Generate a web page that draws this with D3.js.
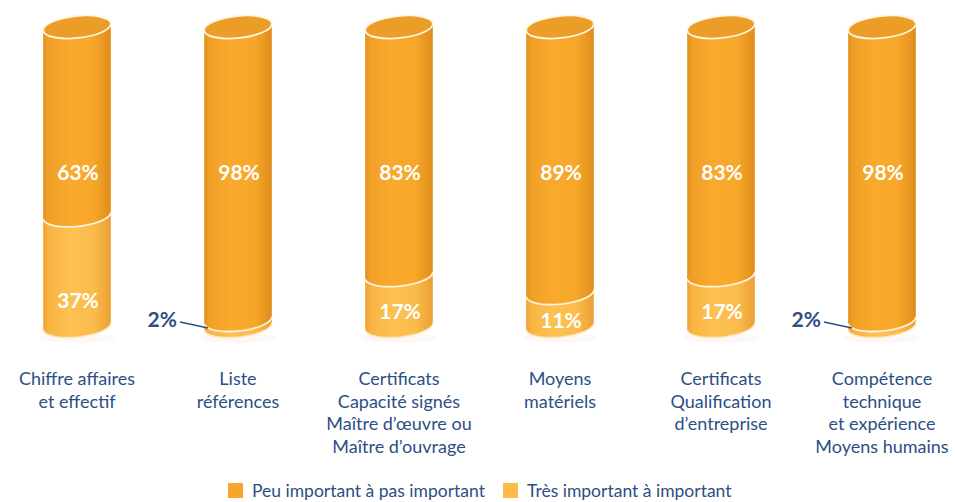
<!DOCTYPE html>
<html>
<head>
<meta charset="utf-8">
<script src="https://cdn.jsdelivr.net/npm/d3@7"></script>
<style>
  body { margin: 0; background: #fff; }
  svg { display: block; font-family: Lato, "Open Sans", sans-serif; }
</style>
</head>
<body>
<div id="viz"></div>
<script>
// data
const categories = [
  ['Chiffre affaires', 'et effectif'],
  ['Liste', 'références'],
  ['Certificats', 'Capacité signés', 'Maître d’œuvre ou', 'Maître d’ouvrage'],
  ['Moyens', 'matériels'],
  ['Certificats', 'Qualification', 'd’entreprise'],
  ['Compétence', 'technique', 'et expérience', 'Moyens humains']
];
const peuImportant = [63, 98, 83, 89, 83, 98];
const tresImportant = [37, 2, 17, 11, 17, 2];
const seriesNames = ['Peu important à pas important', 'Très important à important'];

const width = 955, height = 502;
const rx = 34, ry = 11, tilt = -6 * Math.PI / 180;
const blue = '#2c4f84';

const svg = d3.select('#viz')
  .append('svg')
  .attr('width', width)
  .attr('height', height);

const x = d3.scalePoint()
  .domain(d3.range(categories.length))
  .range([77, 882]);

const y = d3.scaleLinear()
  .domain([0, 100])
  .range([326, 27]);

// gradients
const defs = svg.append('defs');
const grad = (id, stops) => {
  const g = defs.append('linearGradient').attr('id', id)
    .attr('x1', 0).attr('x2', 1).attr('y1', 0).attr('y2', 0);
  stops.forEach(s => g.append('stop').attr('offset', s[0]).attr('stop-color', s[1]));
};
grad('gDark', [[0, '#e2901d'], [0.08, '#f0a027'], [0.4, '#f9aa2d'], [0.75, '#f6a629'], [1, '#df8d1b']]);
grad('gLight', [[0, '#eea134'], [0.08, '#f8b443'], [0.4, '#fdc152'], [0.75, '#fabb4a'], [1, '#eba033']]);

// point on a tilted ellipse
const pt = (cx, cy, t) => [
  cx + rx * Math.cos(t) * Math.cos(tilt) - ry * Math.sin(t) * Math.sin(tilt),
  cy + rx * Math.cos(t) * Math.sin(tilt) + ry * Math.sin(t) * Math.cos(tilt)
];
const arc = (cx, cy, t0, t1) => d3.range(0, 41).map(i => pt(cx, cy, t0 + (t1 - t0) * i / 40));

// segment body: back half of upper ellipse, front half of lower ellipse
const body = (cx, yTop, yBot) => {
  const pts = arc(cx, yTop, Math.PI, 2 * Math.PI).concat(arc(cx, yBot, 0, Math.PI));
  return d3.line()(pts) + 'Z';
};
const frontArc = (cx, cy) => d3.line()(arc(cx, cy, 0, Math.PI));

const data = categories.map((c, i) => ({ i, lines: c, peu: peuImportant[i], tres: tresImportant[i] }));

const cyl = svg.selectAll('.cyl')
  .data(data)
  .enter()
  .append('g')
  .attr('class', 'cyl');

// faint shadow under each cylinder
cyl.append('ellipse')
  .attr('cx', d => x(d.i))
  .attr('cy', y(0) + 12)
  .attr('rx', rx + 4)
  .attr('ry', 5)
  .attr('fill', '#f6ebdc')
  .attr('opacity', 0.35);

// lower segment (Très important)
cyl.append('path')
  .attr('d', d => body(x(d.i), y(d.tres), y(0)))
  .attr('fill', 'url(#gLight)');
cyl.append('path')
  .attr('d', d => frontArc(x(d.i), y(0)))
  .attr('fill', 'none')
  .attr('stroke', '#fde6bd')
  .attr('stroke-width', 1.5);

// upper segment (Peu important)
cyl.append('path')
  .attr('d', d => body(x(d.i), y(100), y(d.tres)))
  .attr('fill', 'url(#gDark)');
cyl.append('path')
  .attr('d', d => frontArc(x(d.i), y(d.tres)))
  .attr('fill', 'none')
  .attr('stroke', '#fff2dc')
  .attr('stroke-width', 1.8);

// top cap
cyl.append('ellipse')
  .attr('cx', 0).attr('cy', 0)
  .attr('rx', rx).attr('ry', ry)
  .attr('transform', d => `translate(${x(d.i)},${y(100)}) rotate(${tilt * 180 / Math.PI})`)
  .attr('fill', '#eb9d27')
  .attr('stroke', '#fff4e0')
  .attr('stroke-width', 1.8);

// top value labels
cyl.append('text')
  .attr('x', d => x(d.i) + 1)
  .attr('y', 172)
  .attr('text-anchor', 'middle')
  .attr('dy', '0.36em')
  .attr('fill', '#fff')
  .attr('font-weight', 700)
  .attr('font-size', 21)
  .text(d => d.peu + '%');

// lower value labels: inside when big enough, else outside with a leader line
const inside = cyl.filter(d => d.tres >= 5);
inside.append('text')
  .attr('x', d => x(d.i) + 1)
  .attr('y', d => Math.max((y(d.tres) + y(0)) / 2 + ry, y(0) - 26))
  .attr('text-anchor', 'middle')
  .attr('dy', '0.36em')
  .attr('fill', '#fff')
  .attr('font-weight', 700)
  .attr('font-size', 21)
  .text(d => d.tres + '%');

const outside = cyl.filter(d => d.tres < 5);
outside.append('line')
  .attr('x1', d => x(d.i) - rx - 24)
  .attr('y1', y(0) - 4)
  .attr('x2', d => x(d.i) - rx + 4)
  .attr('y2', y(0) + 2)
  .attr('stroke', blue)
  .attr('stroke-width', 1.5);
outside.append('text')
  .attr('x', d => x(d.i) - rx - 27)
  .attr('y', y(0) - 7)
  .attr('text-anchor', 'end')
  .attr('dy', '0.36em')
  .attr('fill', blue)
  .attr('font-weight', 700)
  .attr('font-size', 21)
  .text(d => d.tres + '%');

// category labels
cyl.append('text')
  .attr('text-anchor', 'middle')
  .attr('fill', blue)
  .attr('font-size', 18)
  .selectAll('tspan')
  .data(d => d.lines.map((l, k) => ({ l, k, cx: x(d.i) })))
  .enter()
  .append('tspan')
  .attr('x', t => t.cx)
  .attr('y', t => 385 + t.k * 22.7)
  .text(t => t.l);

// legend
const legend = svg.append('g');
const legendX = [228, 503];
const legendColors = ['#f7a52b', '#fdbb4b'];
seriesNames.forEach((name, i) => {
  legend.append('rect')
    .attr('x', legendX[i]).attr('y', 483)
    .attr('width', 15).attr('height', 15)
    .attr('fill', legendColors[i]);
  legend.append('text')
    .attr('x', legendX[i] + 24).attr('y', 497)
    .attr('fill', blue)
    .attr('font-size', 17.5)
    .text(name);
});
</script>
</body>
</html>
